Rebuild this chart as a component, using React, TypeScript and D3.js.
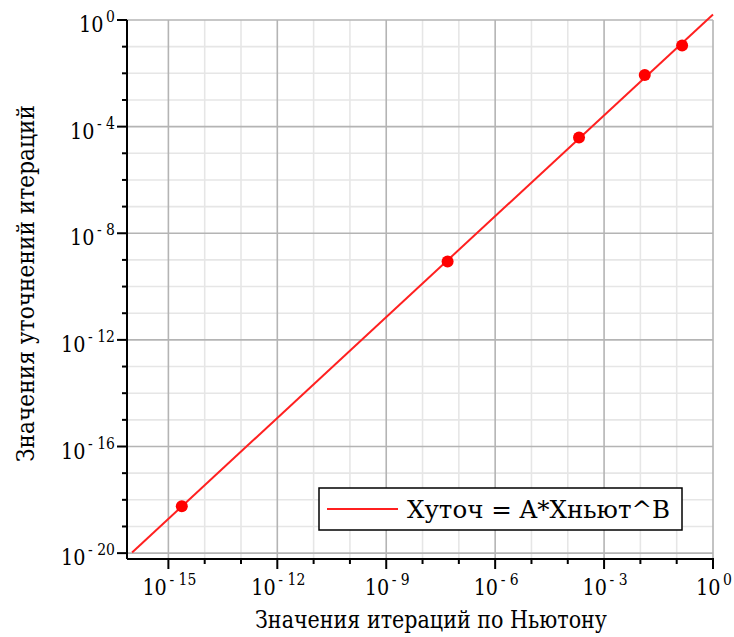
import React from "react";
import * as d3 from "d3";

// Data (log-log plot)
const xNewton = [2.34e-15, 4.9e-8, 2.04e-4, 1.32e-2, 0.141];
const yRefined = [5.75e-19, 8.7e-10, 3.89e-5, 8.7e-3, 0.11];

const xTickExps = [-15, -14, -13, -12, -11, -10, -9, -8, -7, -6, -5, -4, -3, -2, -1, 0];
const xMajorExps = [-15, -12, -9, -6, -3, 0];
const yTickExps = [-20, -19, -18, -17, -16, -15, -14, -13, -12, -11, -10, -9, -8, -7, -6, -5, -4, -3, -2, -1, 0];
const yMajorExps = [-20, -16, -12, -8, -4, 0];

const xTitle = "Значения итераций по Ньютону";
const yTitle = "Значения уточнений итераций";
const legendLabel = "Хуточ = A*Xньют^B";
const lineExtent = [1e-16, 1];

const W = 734;
const H = 637;
const FONT = "DejaVu Serif";

// least-squares power fit in log space
function powerFit(xs: number[], ys: number[]) {
  const lx = xs.map(Math.log10);
  const ly = ys.map(Math.log10);
  const mx = d3.mean(lx)!;
  const my = d3.mean(ly)!;
  let sxy = 0, sxx = 0;
  lx.forEach((v, i) => {
    sxy += (v - mx) * (ly[i] - my);
    sxx += (v - mx) * (v - mx);
  });
  const B = sxy / sxx;
  const logA = my - B * mx;
  return { A: Math.pow(10, logA), B };
}

const supText = (e: number) => (e === 0 ? "0" : `- ${-e}`);
const supWidth = (e: number) => (e === 0 ? 9 : 9 + 9 * String(-e).length);
const labelWidth = (e: number) => 23 + 4 + supWidth(e);

function PowLabel({ x, baseline, e, anchor }: { x: number; baseline: number; e: number; anchor: "end" | "middle" }) {
  return (
    <text
      x={x}
      y={baseline}
      textAnchor={anchor}
      fontSize={22}
      fill="#000"
      textLength={labelWidth(e)}
      lengthAdjust="spacingAndGlyphs"
      xmlSpace="preserve"
      style={{ fontFamily: FONT }}
    >
      <tspan>10</tspan>
      <tspan fontSize={16} dx={3} dy={-10}>{supText(e)}</tspan>
    </text>
  );
}

export default function App() {
  const left = 127, right = 713, top = 20, bottom = 559;
  const x = d3.scaleLog().domain([Math.pow(10, -16.14), 1]).range([left, right]);
  const y = d3.scaleLog().domain([Math.pow(10, -20.22), 1]).range([bottom, top]);

  const { A, B } = powerFit(xNewton, yRefined);
  const linePts: [number, number][] = lineExtent.map((v) => [v, A * Math.pow(v, B)]);
  const line = d3
    .line<[number, number]>()
    .x((d) => x(d[0]))
    .y((d) => y(d[1]));

  const tf = { fontFamily: FONT };

  return (
    <svg
      width={W}
      height={H}
      style={{ position: "absolute", left: 0, top: 0, background: "#fff", fontFamily: FONT }}
    >
      {/* minor grid */}
      {xTickExps.filter((e) => !xMajorExps.includes(e)).map((e) => (
        <line key={"gx" + e} x1={x(Math.pow(10, e))} x2={x(Math.pow(10, e))} y1={top} y2={bottom} stroke="#e6e6e6" strokeWidth={1.6} />
      ))}
      {yTickExps.filter((e) => !yMajorExps.includes(e)).map((e) => (
        <line key={"gy" + e} x1={left} x2={right} y1={y(Math.pow(10, e))} y2={y(Math.pow(10, e))} stroke="#e6e6e6" strokeWidth={1.6} />
      ))}
      {/* major grid */}
      {xMajorExps.map((e) => (
        <line key={"Gx" + e} x1={x(Math.pow(10, e))} x2={x(Math.pow(10, e))} y1={top} y2={bottom} stroke="#b4b4b4" strokeWidth={1.6} />
      ))}
      {yMajorExps.map((e) => (
        <line key={"Gy" + e} x1={left} x2={right} y1={y(Math.pow(10, e))} y2={y(Math.pow(10, e))} stroke="#b4b4b4" strokeWidth={1.6} />
      ))}

      {/* fit line */}
      <path d={line(linePts) || ""} fill="none" stroke="#ff2020" strokeWidth={2} />
      {/* points */}
      {xNewton.map((v, i) => (
        <circle key={"p" + i} cx={x(v)} cy={y(yRefined[i])} r={6} fill="#ff0000" />
      ))}

      {/* axes */}
      <line x1={left} x2={left} y1={top} y2={bottom} stroke="#000" strokeWidth={2} />
      <line x1={left} x2={right + 1} y1={bottom} y2={bottom} stroke="#000" strokeWidth={2} />
      {yTickExps.map((e) => {
        const major = yMajorExps.includes(e);
        const yy = y(Math.pow(10, e));
        return <line key={"ty" + e} x1={left - (major ? 10 : 5)} x2={left} y1={yy} y2={yy} stroke="#000" strokeWidth={2} />;
      })}
      {xTickExps.map((e) => {
        const major = xMajorExps.includes(e);
        const xx = x(Math.pow(10, e));
        return <line key={"tx" + e} x1={xx} x2={xx} y1={bottom} y2={bottom + (major ? 10 : 5)} stroke="#000" strokeWidth={2} />;
      })}

      {/* y tick labels */}
      {yMajorExps.map((e) => (
        <PowLabel key={"ly" + e} e={e} x={115} anchor="end" baseline={y(Math.pow(10, e)) + 12} />
      ))}
      {/* x tick labels */}
      {xMajorExps.map((e) => (
        <PowLabel key={"lx" + e} e={e} x={x(Math.pow(10, e)) + 1} anchor="middle" baseline={595} />
      ))}

      {/* axis titles */}
      <text x={255} y={628} fontSize={24} textLength={352} lengthAdjust="spacingAndGlyphs" fill="#000" style={tf}>
        {xTitle}
      </text>
      <text
        transform={`translate(34, 283.5) rotate(-90)`}
        x={-178.5}
        y={0}
        fontSize={24}
        textLength={357}
        lengthAdjust="spacingAndGlyphs"
        fill="#000"
        style={tf}
      >
        {yTitle}
      </text>

      {/* legend */}
      <rect x={319} y={488} width={363} height={42} fill="#fff" stroke="#000" strokeWidth={1.5} />
      <line x1={327} x2={398} y1={509} y2={509} stroke="#ff2020" strokeWidth={2} />
      <text x={407} y={518} fontSize={24} textLength={263} lengthAdjust="spacingAndGlyphs" fill="#000" style={tf}>
        {legendLabel}
      </text>
    </svg>
  );
}
